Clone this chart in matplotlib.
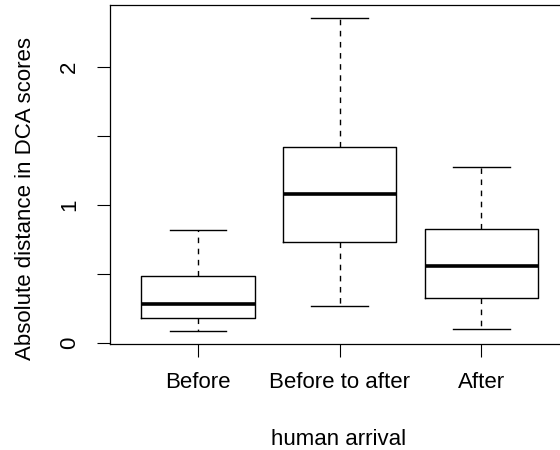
import matplotlib
matplotlib.use("Agg")
import matplotlib.pyplot as plt

# data (box stats per group)
groups = ["Before", "Before to after", "After"]
whisk_lo = [0.085, 0.27, 0.10]
box_lo = [0.186, 0.73, 0.331]
medians = [0.283, 1.08, 0.56]
box_hi = [0.488, 1.42, 0.826]
whisk_hi = [0.82, 2.36, 1.278]

plt.rcParams["font.family"] = ["Liberation Sans", "DejaVu Sans"]
plt.rcParams["font.size"] = 16

fig = plt.figure(figsize=(5.6, 4.5), dpi=100)
ax = fig.add_axes([110 / 560, 1 - 344 / 450, 459 / 560, 339 / 450])

stats = []
for i, g in enumerate(groups):
    stats.append({"label": g, "whislo": whisk_lo[i], "q1": box_lo[i],
                  "med": medians[i], "q3": box_hi[i], "whishi": whisk_hi[i],
                  "fliers": []})

ax.bxp(stats, positions=[1, 2, 3], widths=0.8, showfliers=False,
       boxprops=dict(color="black", linewidth=1.0),
       medianprops=dict(color="black", linewidth=2.6, solid_capstyle="butt"),
       whiskerprops=dict(color="black", linewidth=1.0, linestyle=(0, (4, 4))),
       capprops=dict(color="black", linewidth=1.0), capwidths=0.4)

# R style axis extents (4% padding)
lo, hi = min(whisk_lo), max(whisk_hi)
pad = 0.04 * (hi - lo)
ax.set_ylim(lo - pad, hi + pad)
ax.set_xlim(0.38, 3.62)

ax.set_yticks([0, 0.5, 1, 1.5, 2])
ax.set_yticklabels(["0", "", "1", "", "2"], rotation=90, va="center")
ax.set_xticks([1, 2, 3])
ax.set_xticklabels(groups)
ax.tick_params(axis="both", length=9.5, width=0.8, color="black")
ax.tick_params(axis="y", pad=12)
ax.tick_params(axis="x", pad=11)

for s in ax.spines.values():
    s.set_linewidth(0.9)

ax.set_xlabel("human arrival")
ax.xaxis.set_label_coords(0.499, -0.283)
ax.xaxis.label.set_va("center")
ax.set_ylabel("Absolute distance in DCA scores")
ax.yaxis.set_label_coords(-0.185, 0.428)
ax.yaxis.label.set_va("center")

fig.savefig("out.png", dpi=100)
